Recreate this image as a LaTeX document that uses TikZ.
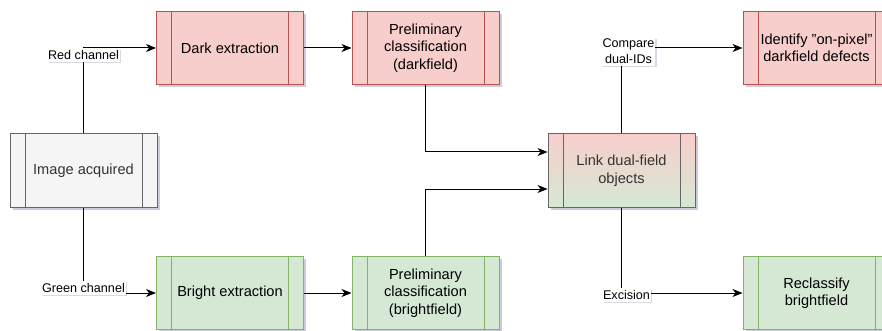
\documentclass[tikz,border=0pt]{standalone}
\usepackage{fontspec}
\setmainfont{Liberation Sans}
\usetikzlibrary{arrows.meta,shadows}

\definecolor{rfill}{HTML}{F8CECC}
\definecolor{rline}{HTML}{B85450}
\definecolor{gfill}{HTML}{D5E8D4}
\definecolor{gline}{HTML}{82B366}
\definecolor{nfill}{HTML}{F5F5F5}
\definecolor{nline}{HTML}{666666}
\definecolor{ntext}{HTML}{333333}

\newcommand{\procbars}[1]{%
  \draw[#1, line width=1pt]
    ([xshift=15pt]path picture bounding box.north west) -- ([xshift=15pt]path picture bounding box.south west)
    ([xshift=-15pt]path picture bounding box.north east) -- ([xshift=-15pt]path picture bounding box.south east);}

\tikzset{
  proc/.style={draw, line width=1pt, minimum width=147pt, minimum height=73pt, inner sep=0pt,
    align=center, font=\fontsize{14.6}{17.5}\selectfont,
    drop shadow={shadow xshift=2.5pt, shadow yshift=-2.5pt, opacity=0.2, fill=black!70!blue}},
  redbox/.style={proc, fill=rfill, draw=rline, path picture={\procbars{rline}}},
  greenbox/.style={proc, fill=gfill, draw=gline, path picture={\procbars{gline}}},
  greybox/.style={proc, fill=nfill, draw=nline, text=ntext, path picture={\procbars{nline}}},
  mixbox/.style={proc, top color=rfill, bottom color=gfill, draw=nline, text=ntext, path picture={\procbars{nline}}},
  conn/.style={line width=1pt, -{Stealth[length=10pt,width=8pt,inset=3pt]}},
  lbl/.style={fill=white, inner xsep=1pt, inner ysep=2pt, align=center, font=\fontsize{12.6}{16}\selectfont,
    drop shadow={shadow xshift=1.5pt, shadow yshift=-1.5pt, opacity=0.15, fill=black!70!blue}}
}

\begin{document}
\begin{tikzpicture}[x=1pt,y=-1pt]
\useasboundingbox (0,0) rectangle (882,331);

% process boxes
\node[greybox]  (img)     at (83.5,170.5) {Image acquired};
\node[redbox]   (dark)    at (230,48)     {Dark extraction};
\node[greenbox] (bright)  at (230,293)    {Bright extraction};
\node[redbox]   (pdark)   at (425.5,48)   {Preliminary\\classification\\(darkfield)};
\node[greenbox] (pbright) at (425.5,293)  {Preliminary\\classification\\(brightfield)};
\node[mixbox]   (link)    at (621.5,170.5) {Link dual-field\\objects};
\node[redbox]   (ident)   at (816.5,48)   {Identify "on-pixel"\\darkfield defects};
\node[greenbox] (recl)    at (816.5,293)  {Reclassify\\brightfield};

% connectors
\draw[conn] (img.north) |- node[lbl, yshift=-7pt] {Red channel} (dark.west);
\draw[conn] (img.south) |- node[lbl, yshift=5pt] {Green channel} (bright.west);
\draw[conn] (dark) -- (pdark);
\draw[conn] (bright) -- (pbright);
\draw[conn] (pdark.south) |- ([yshift=18.5pt]link.west);
\draw[conn] (pbright.north) |- ([yshift=-18.5pt]link.west);
\draw[conn] (link.north) |- node[lbl, xshift=7pt, yshift=-3.5pt] {Compare\\dual-IDs} (ident.west);
\draw[conn] (link.south) |- node[lbl, xshift=5pt, yshift=-2pt] {Excision} (recl.west);
\end{tikzpicture}
\end{document}
